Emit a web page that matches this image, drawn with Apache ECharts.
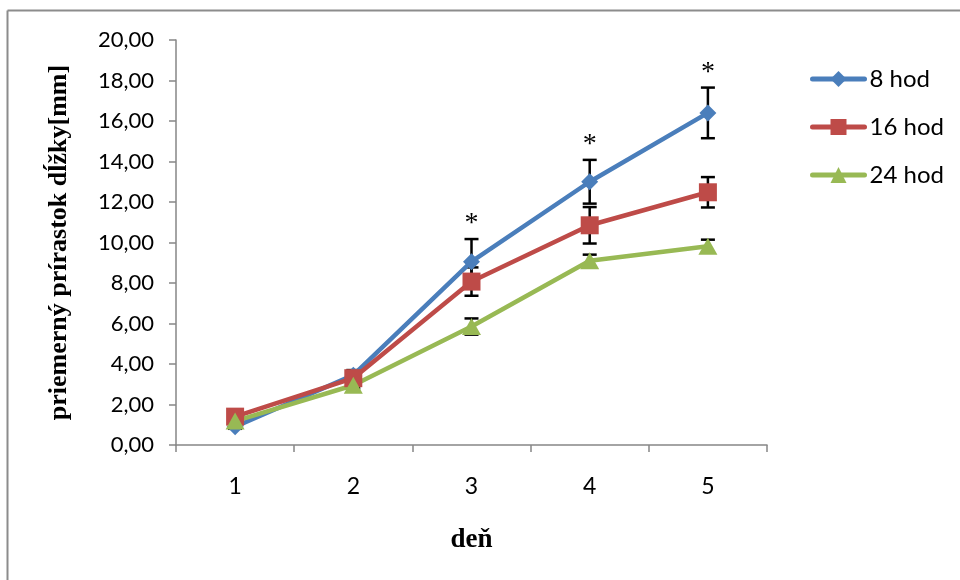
<!DOCTYPE html>
<html><head><meta charset="utf-8">
<script src="https://cdn.jsdelivr.net/npm/echarts@6/dist/echarts.min.js"></script>
<style>html,body{margin:0;padding:0;background:#fff}#c{width:960px;height:580px}</style>
</head><body><div id="c"></div>
<script>
const days = ['1','2','3','4','5'];
const seriesNames = ['8 hod','16 hod','24 hod'];
const h8 = [0.9, 3.45, 9.05, 13.0, 16.4];
const h16 = [1.4, 3.3, 8.07, 10.85, 12.48];
const h24 = [1.18, 2.95, 5.85, 9.1, 9.82];
const e8 = [0.1, 0.25, 1.12, 1.08, 1.25];
const e16 = [0.1, 0.2, 0.7, 0.9, 0.75];
const e24 = [0.1, 0.15, 0.4, 0.3, 0.32];
const signif = [false, false, true, true, true];
const yTicks = {min: 0, max: 20, interval: 2};

const colors = ['#4a7ebb', '#be4b48', '#98b954'];
const symbols = ['diamond', 'rect', 'triangle'];
const symSizes = [[17,17],[18,18],[19,17]];
const vals = [h8, h16, h24];
const errs = [e8, e16, e24];

const lineSeries = seriesNames.map((n, i) => ({
  name: n, type: 'line', data: vals[i], z: 3,
  symbol: symbols[i], symbolSize: symSizes[i], showAllSymbol: true,
  lineStyle: {color: colors[i], width: 4.5},
  itemStyle: {color: colors[i]},
  emphasis: {disabled: true}, animation: false
}));

function errData(v, e) { return v.map((x, j) => [j, x - e[j], x + e[j]]); }
const errSeries = seriesNames.map((n, i) => ({
  type: 'custom', z: 2, animation: false, silent: true,
  data: errData(vals[i], errs[i]),
  renderItem: function (params, api) {
    const lo = api.coord([api.value(0), api.value(1)]);
    const hi = api.coord([api.value(0), api.value(2)]);
    const w = 7;
    const st = {stroke: '#000', lineWidth: 2.5};
    return {type: 'group', children: [
      {type: 'line', shape: {x1: lo[0], y1: lo[1], x2: hi[0], y2: hi[1]}, style: st},
      {type: 'line', shape: {x1: lo[0]-w, y1: lo[1], x2: lo[0]+w, y2: lo[1]}, style: st},
      {type: 'line', shape: {x1: hi[0]-w, y1: hi[1], x2: hi[0]+w, y2: hi[1]}, style: st}
    ]};
  }
}));

const starData = [];
signif.forEach((s, j) => { if (s) starData.push([j, h8[j] + e8[j]]); });
const starSeries = {
  type: 'custom', z: 4, animation: false, silent: true, data: starData,
  renderItem: function (params, api) {
    const p = api.coord([api.value(0), api.value(1)]);
    return {type: 'text', x: p[0], y: p[1] - 1, style: {
      text: '*', fill: '#000', font: '28px "Liberation Serif"', align: 'center', verticalAlign: 'bottom'}};
  }
};

const chart = echarts.init(document.getElementById('c'), null, {renderer: 'canvas'});
chart.setOption({
  backgroundColor: '#fff',
  animation: false,
  grid: {left: 176, right: 193, top: 40, bottom: 135},
  xAxis: {
    type: 'category', data: days, boundaryGap: true,
    name: 'deň', nameLocation: 'middle', nameGap: 82,
    nameTextStyle: {fontFamily: 'Liberation Serif', fontWeight: 'bold', fontSize: 27, color: '#000'},
    axisLine: {lineStyle: {color: '#868686', width: 1.5}},
    axisTick: {show: true, length: 7, lineStyle: {color: '#868686', width: 1.5}, alignWithLabel: false},
    axisLabel: {fontFamily: 'Lato', fontSize: 23, color: '#000', margin: 30}
  },
  yAxis: {
    type: 'value', min: yTicks.min, max: yTicks.max, interval: yTicks.interval,
    name: 'priemerný prírastok dĺžky[mm]', nameLocation: 'middle', nameGap: 104,
    nameTextStyle: {fontFamily: 'Liberation Serif', fontWeight: 'bold', fontSize: 26, color: '#000'},
    axisLine: {show: true, lineStyle: {color: '#868686', width: 1.5}},
    axisTick: {show: true, length: 7, inside: false, lineStyle: {color: '#868686', width: 1.5}},
    splitLine: {show: false},
    axisLabel: {fontFamily: 'Lato', fontSize: 22, color: '#000', margin: 22,
      formatter: v => v.toFixed(2).replace('.', ',')}
  },
  legend: {
    data: seriesNames, orient: 'vertical', left: 805, top: 62,
    itemWidth: 52, itemHeight: 20, itemGap: 24,
    lineStyle: {width: 5, cap: 'round'},
    textStyle: {fontFamily: 'Lato', fontSize: 24, color: '#000'}
  },
  graphic: [
    {type: 'line', shape: {x1: 7.5, y1: 10.5, x2: 960, y2: 10.5}, style: {stroke: '#8c8c8c', lineWidth: 2}},
    {type: 'line', shape: {x1: 7.5, y1: 10.5, x2: 7.5, y2: 580}, style: {stroke: '#8c8c8c', lineWidth: 2}}
  ],
  series: [...errSeries, ...lineSeries, starSeries]
});
</script></body></html>
